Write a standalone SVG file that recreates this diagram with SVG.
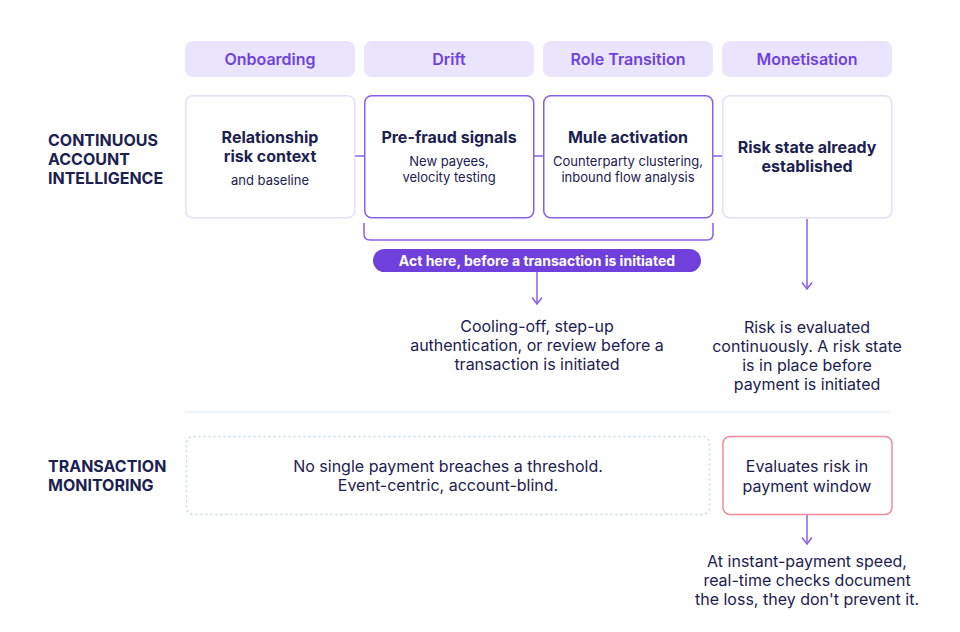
<svg xmlns="http://www.w3.org/2000/svg" width="960" height="632" viewBox="0 0 960 632">
<defs>
<style>
text{font-family:Inter,"Liberation Sans",sans-serif;fill:#1C2150}
.hdr rect{fill:#EAE4FD}
.hdr text{fill:#6F42E0;font-size:16px;font-weight:600;text-anchor:middle}
.card{fill:#fff;stroke:#E6DFFB;stroke-width:1.5}
.card.act{stroke:#8A60E8;stroke-width:1.5}
.t{font-size:16px;font-weight:700;text-anchor:middle}
.s{font-size:13px;text-anchor:middle}
.b{font-size:16px;text-anchor:middle}
.lbl{font-size:16px;font-weight:700}
.con{stroke:#8A60E8;stroke-width:1.5;fill:none}
</style>
<marker id="ah" viewBox="0 0 10 12" refX="8.5" refY="6" markerWidth="10" markerHeight="12" markerUnits="userSpaceOnUse" orient="auto">
<path d="M2 1 L8.5 6 L2 11" fill="none" stroke="#8A60E8" stroke-width="1.5"/>
</marker>
</defs>
<rect width="960" height="632" fill="#fff"/>

<g id="lbl-cai">
<text class="lbl" x="48" y="146">CONTINUOUS</text>
<text class="lbl" x="48" y="165">ACCOUNT</text>
<text class="lbl" x="48" y="184">INTELLIGENCE</text>
</g>
<g id="lbl-tm">
<text class="lbl" x="48" y="472">TRANSACTION</text>
<text class="lbl" x="48" y="491">MONITORING</text>
</g>

<g id="hdr-onboarding" class="hdr"><rect x="185" y="41" width="170" height="36" rx="8"/><text x="270" y="65">Onboarding</text></g>
<g id="hdr-drift" class="hdr"><rect x="364" y="41" width="170" height="36" rx="8"/><text x="449" y="65">Drift</text></g>
<g id="hdr-role" class="hdr"><rect x="543" y="41" width="170" height="36" rx="8"/><text x="628" y="65">Role Transition</text></g>
<g id="hdr-monetisation" class="hdr"><rect x="722" y="41" width="170" height="36" rx="8"/><text x="807" y="65">Monetisation</text></g>

<g id="connectors">
<line class="con" x1="355" y1="156" x2="364" y2="156"/>
<line class="con" x1="534" y1="156" x2="543" y2="156"/>
<line class="con" x1="713" y1="156" x2="722" y2="156"/>
<path class="con" d="M364 223 V234 Q364 240 370 240 H707 Q713 240 713 234 V223"/>
<line class="con" x1="537" y1="272" x2="537" y2="304" marker-end="url(#ah)"/>
<line class="con" x1="807" y1="219" x2="807" y2="289" marker-end="url(#ah)"/>
<line class="con" x1="807" y1="515" x2="807" y2="544" marker-end="url(#ah)"/>
</g>

<g id="card-relationship">
<rect class="card" x="185.75" y="95.75" width="169" height="122" rx="7"/>
<text class="t" x="270" y="143">Relationship</text>
<text class="t" x="270" y="162">risk context</text>
<text class="s" x="270" y="185">and baseline</text>
</g>
<g id="card-prefraud">
<rect class="card act" x="364.75" y="95.75" width="169" height="122" rx="7"/>
<text class="t" x="449" y="143">Pre-fraud signals</text>
<text class="s" x="449" y="166">New payees,</text>
<text class="s" x="449" y="182">velocity testing</text>
</g>
<g id="card-mule">
<rect class="card act" x="543.75" y="95.75" width="169" height="122" rx="7"/>
<text class="t" x="628" y="143">Mule activation</text>
<text class="s" x="628" y="166">Counterparty clustering,</text>
<text class="s" x="628" y="182">inbound flow analysis</text>
</g>
<g id="card-riskstate">
<rect class="card" x="722.75" y="95.75" width="169" height="122" rx="7"/>
<text class="t" x="807" y="153">Risk state already</text>
<text class="t" x="807" y="172">established</text>
</g>

<g id="pill-act">
<rect x="373" y="249" width="328" height="23" rx="11.5" fill="#7040DC"/>
<text x="537" y="265.5" font-size="14" font-weight="700" text-anchor="middle" style="fill:#fff">Act here, before a transaction is initiated</text>
</g>

<g id="note-cooling">
<text class="b" x="537" y="332">Cooling-off, step-up</text>
<text class="b" x="537" y="351">authentication, or review before a</text>
<text class="b" x="537" y="370">transaction is initiated</text>
</g>
<g id="note-continuous">
<text class="b" x="807" y="333">Risk is evaluated</text>
<text class="b" x="807" y="352">continuously. A risk state</text>
<text class="b" x="807" y="371">is in place before</text>
<text class="b" x="807" y="390">payment is initiated</text>
</g>

<line id="divider" x1="185" y1="412" x2="890" y2="412" stroke="#DCEBF8" stroke-width="1"/>

<g id="box-threshold">
<rect x="186.5" y="436.5" width="523" height="78" rx="7" fill="#fff" stroke="#C4DDF0" stroke-width="1.5" stroke-dasharray="2 3"/>
<text class="b" x="448" y="472">No single payment breaches a threshold.</text>
<text class="b" x="448" y="491">Event-centric, account-blind.</text>
</g>
<g id="box-window">
<rect x="723" y="436.5" width="169" height="78" rx="7" fill="#fff" stroke="#F08C9A" stroke-width="1.5"/>
<text class="b" x="807" y="472">Evaluates risk in</text>
<text class="b" x="807" y="492">payment window</text>
</g>
<g id="note-instant">
<text class="b" x="807" y="567">At instant-payment speed,</text>
<text class="b" x="807" y="586">real-time checks document</text>
<text class="b" x="807" y="605">the loss, they don't prevent it.</text>
</g>
</svg>
